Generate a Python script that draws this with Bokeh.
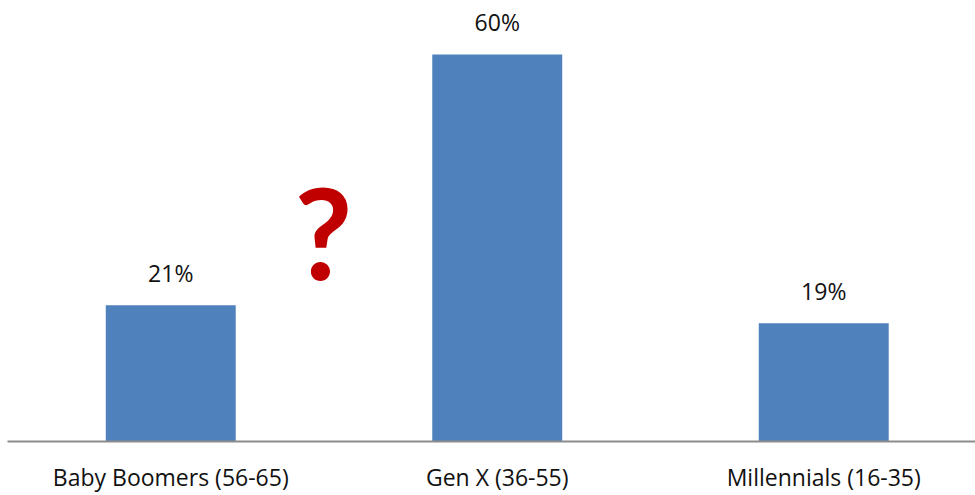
from bokeh.plotting import figure
from bokeh.models import ColumnDataSource, LabelSet, Label, Range1d, FixedTicker
from bokeh.core.properties import value
from bokeh.embed import file_html
from bokeh.resources import INLINE

categories = ["Baby Boomers (56-65)", "Gen X (36-55)", "Millennials (16-35)"]
values = [21.2, 60.2, 18.4]
value_labels = ["21%", "60%", "19%"]

xs = list(range(len(categories)))
src = ColumnDataSource(dict(x=xs, top=values, lab=value_labels))

p = figure(width=975, height=495, output_backend="svg", toolbar_location=None,
           x_range=Range1d(-0.5, -0.5 + 968 / 326.5), y_range=Range1d(0, 442 / 6.445),
           min_border_left=7, min_border_right=0, min_border_top=0, min_border_bottom=0)
p.outline_line_color = None
p.grid.visible = False
p.yaxis.visible = False
p.background_fill_color = "white"
p.border_fill_color = "white"

p.vbar(x="x", top="top", width=0.398, bottom=0, source=src,
       fill_color="#4F81BD", line_color=None)

labels = LabelSet(x="x", y="top", text="lab", source=src, text_align="center",
                  text_baseline="middle", y_offset=32, text_font=value("Open Sans"),
                  text_font_size="23px", text_color="#111111")
p.add_layout(labels)

q = Label(x=0.468, y=32.7, text="?", text_align="center", text_baseline="middle",
          text_font="Lato", text_font_style="bold", text_font_size="126px",
          text_color="#C00000")
p.add_layout(q)

ax = p.xaxis[0]
ax.ticker = FixedTicker(ticks=xs)
ax.major_label_overrides = {i: c for i, c in enumerate(categories)}
ax.major_tick_line_color = None
ax.minor_tick_line_color = None
ax.major_tick_out = 0
ax.major_tick_in = 0
ax.axis_line_color = "#8C8C8C"
ax.axis_line_width = 2
ax.major_label_standoff = 19
ax.major_label_text_font = "Open Sans"
ax.major_label_text_font_size = "23px"
ax.major_label_text_color = "#111111"

open("out.html", "w").write(file_html(p, INLINE))
